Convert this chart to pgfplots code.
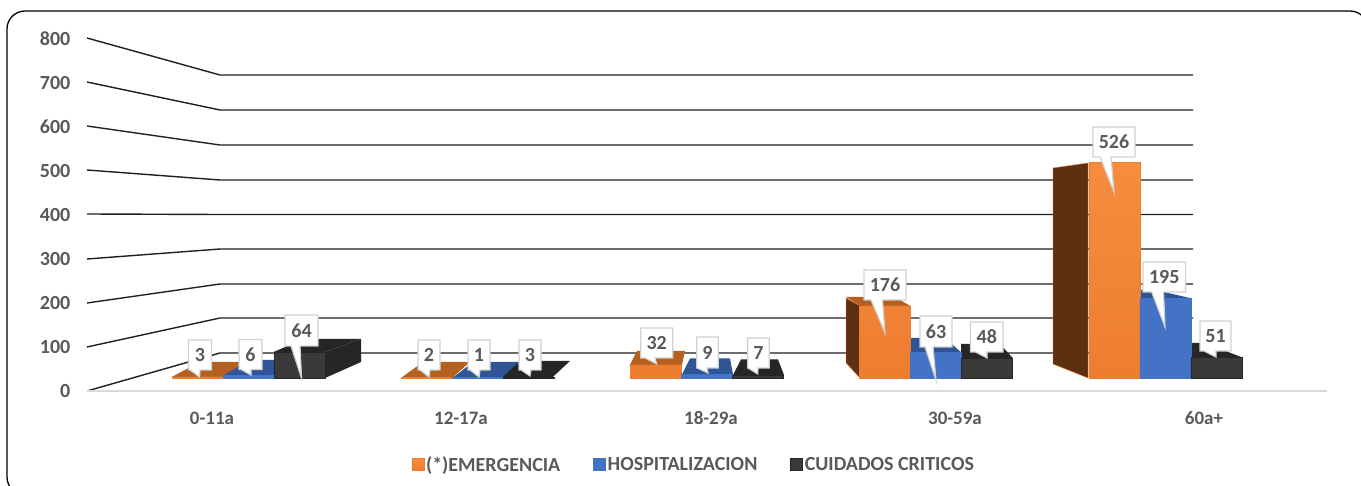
\documentclass[border=0pt]{standalone}
\usepackage{pgfplots}
\pgfplotsset{compat=1.18}
\usepackage{fontspec}
\setmainfont{Carlito}
\definecolor{tx}{HTML}{595959}
\definecolor{oF}{HTML}{ED7D31}
\definecolor{oL}{HTML}{F78C3E}
\definecolor{oT}{HTML}{B5601F}
\definecolor{oS}{HTML}{5E3012}
\definecolor{bF}{HTML}{4472C4}
\definecolor{bT}{HTML}{2F5597}
\definecolor{dF}{HTML}{3A3A3A}
\definecolor{dT}{HTML}{262626}
\pgfplotsset{canvas/.style={at={(0,0)},anchor=south west,width=1361pt,height=486pt,scale only axis,hide axis,clip=false}}
% box left, right, top, bottom, pointer base left, right, tip x, tip y, text
\newcommand{\co}[9]{%
  \draw[draw=black!18,line width=1.2pt,fill=white] (axis cs:#1,#3)--(axis cs:#2,#3)--(axis cs:#2,#4)--(axis cs:#6,#4)--(axis cs:#7,#8)--(axis cs:#5,#4)--(axis cs:#1,#4)--cycle;
  \node[inner sep=0pt,text=tx,font=\fontsize{20}{20}\selectfont\bfseries] at (axis cs:{(#1+#2)/2},{(#3+#4)/2}) {#9};}
\pgfplotstableread{
x  em  ho  cc
0  3   6   64
1  2   1   3
2  32  9   7
3  176 63  48
4  526 195 51
}\datos
\begin{document}
\begin{tikzpicture}
\path[use as bounding box] (0,0) rectangle (1361pt,486pt);
% pixel layer: walls, side faces
\begin{axis}[canvas,xmin=0,xmax=1361,ymin=0,ymax=486,y dir=reverse]
\addplot[black!88,line width=1.4pt] coordinates {(87,38)(220,75)(1193,75)};
\addplot[black!88,line width=1.4pt] coordinates {(87,82)(220,110)(1193,110)};
\addplot[black!88,line width=1.4pt] coordinates {(87,126)(220,145)(1193,145)};
\addplot[black!88,line width=1.4pt] coordinates {(87,170)(220,180)(1193,180)};
\addplot[black!88,line width=1.4pt] coordinates {(87,214)(220,214.5)(1193,214.5)};
\addplot[black!88,line width=1.4pt] coordinates {(87,259)(220,249)(1193,249)};
\addplot[black!88,line width=1.4pt] coordinates {(87,303)(220,284)(1193,284)};
\addplot[black!88,line width=1.4pt] coordinates {(87,347)(220,318)(1193,318)};
\addplot[black!88,line width=1.4pt] coordinates {(87,391)(220,353)(1193,353)};
% group 0
\addplot[fill=oT,draw=none] coordinates {(172,376.8)(223,376.8)(247,362)(200,362)};
\addplot[fill=bT,draw=none] coordinates {(223,375.5)(274,375.5)(300,360)(250,360)};
\addplot[fill=dT,draw=none] coordinates {(274,351.8)(325,351.8)(361,339)(304,339)};
\addplot[fill=dT,draw=none] coordinates {(325,351.8)(361,339)(361,362)(325,378)};
% group 1
\addplot[fill=oT,draw=none] coordinates {(402,377.2)(453,377.2)(470,362)(423,362)};
\addplot[fill=bT,draw=none] coordinates {(453,377.6)(503,377.6)(523,362)(473,362)};
\addplot[fill=dT,draw=none] coordinates {(503,376.8)(553,376.8)(570,361)(520,361)};
% group 2
\addplot[fill=oT,draw=none] coordinates {(630,364.9)(682,364.9)(685,351)(637,351)};
\addplot[fill=bT,draw=none] coordinates {(682,374.3)(733,374.3)(730,358.5)(690,358.5)};
\addplot[fill=dT,draw=none] coordinates {(733,375)(784,375)(778,359.5)(741,359.5)};
% group 3
\addplot[fill=oT,draw=none] coordinates {(846,297)(860,305.8)(910,305.8)(895,297)};
\addplot[fill=oS,draw=oF,line width=0.4pt] coordinates {(846,298)(860,305.8)(860,378)(846,363)(846,298)};
\addplot[fill=bT,draw=none] coordinates {(910,352.2)(961,352.2)(945,338)(910,338)};
\addplot[fill=dT,draw=none] coordinates {(961,358.3)(1013,358.3)(1000,344)(961,344)};
% group 4
\addplot[fill=oS,draw=oF,line width=0.4pt] coordinates {(1053,168)(1088,163)(1088,378)(1053,364)(1053,168)};
\addplot[fill=bT,draw=none] coordinates {(1139,298)(1190,298)(1155,290)(1139,290)};
\addplot[fill=dT,draw=none] coordinates {(1190,357)(1241,357)(1205,343)(1190,343)};
\end{axis}
% value axis with its ticks and category names
\begin{axis}[at={(87pt,95pt)},anchor=south west,width=1240pt,height=352pt,scale only axis,
  xmin=87,xmax=1327,ymin=0,ymax=800,
  axis y line=left,axis x line=bottom,
  y axis line style={draw=none},x axis line style={draw=black!15,line width=1.2pt,-},
  major tick style={draw=none},
  ytick={0,100,...,800},
  xtick={212,461,711,955,1204},
  xticklabels={0-11a,12-17a,18-29a,30-59a,60a+},
  /pgf/number format/assume math mode=true,
  xticklabel style={font=\fontsize{19}{19}\selectfont\bfseries,text=tx,yshift=-15pt},
  yticklabel style={font=\fontsize{20}{20}\selectfont\bfseries,text=tx,xshift=-11pt}]
\end{axis}
% bars
\begin{axis}[canvas,xmin=-1.0842,xmax=4.8538,ymin=-263.4,ymax=921.95,
  ybar=0pt,bar width=51pt,
  legend columns=3,
  legend style={at={(rel axis cs:0.3023,0.0225)},anchor=south west,draw=none,fill=none,
    font=\fontsize{20}{20}\selectfont\bfseries,text=tx,inner sep=0pt,
    /tikz/every even column/.append style={column sep=31pt}},
  legend image code/.code={\fill[#1] (0pt,-6pt) rectangle (12pt,6pt);\path (12pt,0pt);}]
\addplot[bottom color=oF,top color=oL,draw=oF,fill=oF] table[x=x,y=em] {\datos};
\addplot[fill=bF,draw=bF] table[x=x,y=ho] {\datos};
\addplot[fill=dF,draw=dT] table[x=x,y=cc] {\datos};
\legend{(*)EMERGENCIA,HOSPITALIZACION,CUIDADOS CRITICOS}
\end{axis}
% frame and callouts
\begin{axis}[canvas,xmin=0,xmax=1361,ymin=0,ymax=486,y dir=reverse]
\addplot[draw=none,forget plot] coordinates {(0,0)(1361,486)};
\draw[black,line width=1.3pt,rounded corners=18pt] (axis cs:7,11) rectangle (axis cs:1368,495);
\co{188.5}{211.5}{340}{370}{190}{200}{199.6}{377}{3}
\co{239}{262}{339.5}{369.5}{241}{251}{251}{375}{6}
\co{285}{318}{315}{346}{291}{300}{301.5}{378}{64}
\co{418}{440}{340}{370}{420}{430}{429}{377}{2}
\co{468}{490}{340}{370}{470}{480}{479}{377}{1}
\co{519}{541}{340}{370}{521}{531}{530}{376}{3}
\co{640.7}{672.7}{328}{358}{645}{655}{656.7}{364}{32}
\co{696.7}{718.3}{337}{368}{697}{707}{708}{373}{9}
\co{747.7}{769.3}{338}{368}{748}{758}{757.7}{374}{7}
\co{864}{906}{270}{300}{871}{882.5}{885}{333}{176}
\co{920}{952}{316}{347}{925}{933}{936}{380}{63}
\co{970.5}{1003}{322}{352}{975.6}{987}{987}{358}{48}
\co{1093}{1135}{127}{157}{1100}{1111}{1114}{192}{526}
\co{1143}{1185.5}{262}{292}{1151.7}{1163.5}{1165}{327}{195}
\co{1200}{1231}{321}{351}{1204}{1216}{1216}{357}{51}
\end{axis}
\end{tikzpicture}
\end{document}
